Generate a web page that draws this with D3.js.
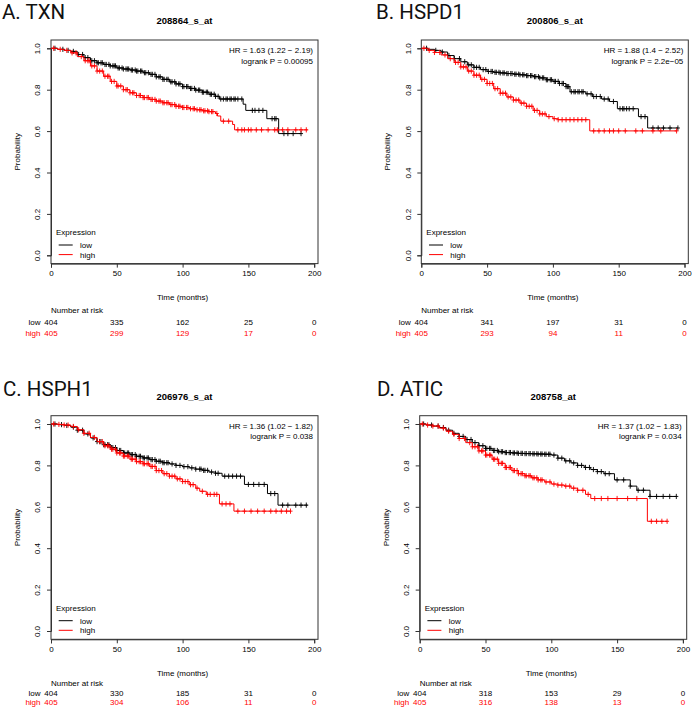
<!DOCTYPE html>
<html><head><meta charset="utf-8">
<script src="https://cdn.jsdelivr.net/npm/d3@7"></script>
<style>body{margin:0;background:#fff} svg{display:block}</style>
</head><body>
<svg id="c" width="693" height="710"></svg>
<script>
// ---------- data ----------
const panelTitles = ["A. TXN", "B. HSPD1", "C. HSPH1", "D. ATIC"];
const probeIds = ["208864_s_at", "200806_s_at", "206976_s_at", "208758_at"];
const hrLabels = ["HR = 1.63 (1.22 \u2212 2.19)", "HR = 1.88 (1.4 \u2212 2.52)", "HR = 1.36 (1.02 \u2212 1.82)", "HR = 1.37 (1.02 \u2212 1.83)"];
const pLabels = ["logrank P = 0.00095", "logrank P = 2.2e\u221205", "logrank P = 0.038", "logrank P = 0.034"];
const timeTicks = [0, 50, 100, 150, 200];
const probTicks = [0, 0.2, 0.4, 0.6, 0.8, 1.0];
const groupNames = ["low", "high"];
const riskLow = [[404, 335, 162, 25, 0], [404, 341, 197, 31, 0], [404, 330, 185, 31, 0], [404, 318, 153, 29, 0]];
const riskHigh = [[405, 299, 129, 17, 0], [405, 293, 94, 11, 0], [405, 304, 106, 11, 0], [405, 316, 138, 13, 0]];

// Kaplan-Meier steps [time (months), survival from that time on]
const lowA = [[0,1],[5,0.995],[10,0.99],[15,0.985],[20,0.97],[25,0.955],[30,0.94],[35,0.93],[40,0.922],[45,0.915],[50,0.905],[55,0.9],[60,0.895],[65,0.89],[70,0.882],[75,0.874],[80,0.862],[85,0.85],[90,0.838],[95,0.828],[100,0.815],[105,0.806],[110,0.798],[115,0.788],[120,0.778],[125,0.768],[128,0.755],[146,0.73],[148,0.70],[164,0.66],[173,0.588],[190,0.588]];
const highA = [[0,1],[5,0.995],[10,0.99],[15,0.978],[20,0.96],[25,0.94],[30,0.915],[35,0.89],[40,0.865],[45,0.84],[50,0.818],[55,0.8],[60,0.785],[65,0.772],[70,0.762],[75,0.753],[80,0.745],[85,0.737],[90,0.728],[95,0.72],[100,0.714],[105,0.708],[110,0.703],[115,0.698],[120,0.694],[125,0.685],[126.5,0.673],[129,0.648],[138,0.632],[139.5,0.606],[195,0.606]];
const lowB = [[0,1],[5,0.995],[10,0.99],[15,0.982],[20,0.965],[25,0.95],[30,0.935],[35,0.92],[40,0.908],[45,0.897],[50,0.888],[55,0.884],[60,0.881],[65,0.878],[70,0.875],[75,0.872],[80,0.868],[85,0.863],[90,0.857],[95,0.848],[100,0.84],[105,0.83],[110,0.815],[113,0.79],[125,0.78],[130,0.767],[137,0.755],[143,0.743],[149,0.708],[165,0.67],[172,0.615],[195,0.615]];
const highB = [[0,1],[5,0.99],[10,0.98],[15,0.968],[20,0.95],[25,0.932],[30,0.91],[35,0.89],[40,0.87],[45,0.85],[50,0.83],[55,0.805],[60,0.783],[65,0.765],[70,0.75],[75,0.735],[80,0.72],[85,0.7],[90,0.683],[95,0.67],[100,0.66],[104,0.655],[128,0.601],[194,0.601]];
const lowC = [[0,1],[5,0.997],[10,0.993],[15,0.985],[20,0.97],[25,0.952],[30,0.933],[35,0.915],[40,0.9],[45,0.886],[50,0.872],[55,0.86],[60,0.852],[65,0.844],[70,0.836],[75,0.828],[80,0.82],[85,0.813],[90,0.807],[95,0.8],[100,0.794],[105,0.788],[110,0.782],[115,0.776],[120,0.768],[125,0.762],[130,0.748],[147,0.708],[164.5,0.664],[172.5,0.608],[195,0.608]];
const highC = [[0,1],[5,0.998],[10,0.995],[15,0.988],[20,0.972],[25,0.955],[30,0.935],[35,0.915],[40,0.895],[45,0.878],[50,0.86],[55,0.845],[60,0.83],[65,0.818],[70,0.808],[75,0.795],[80,0.775],[85,0.76],[90,0.748],[95,0.735],[100,0.722],[105,0.707],[110,0.69],[113,0.675],[118,0.66],[128,0.614],[139,0.579],[182,0.579]];
const lowD = [[0,1],[5,0.995],[10,0.99],[15,0.983],[20,0.97],[25,0.955],[30,0.94],[35,0.925],[40,0.91],[45,0.895],[50,0.882],[55,0.872],[60,0.866],[65,0.862],[70,0.86],[75,0.858],[80,0.857],[85,0.856],[90,0.855],[95,0.854],[100,0.85],[105,0.835],[110,0.822],[115,0.812],[120,0.8],[125,0.79],[130,0.78],[135,0.77],[140,0.76],[148,0.73],[160,0.70],[165,0.68],[175,0.65],[195,0.65]];
const highD = [[0,1],[5,0.995],[10,0.99],[15,0.98],[20,0.965],[25,0.95],[30,0.93],[35,0.91],[40,0.89],[45,0.87],[50,0.85],[55,0.83],[60,0.81],[65,0.79],[70,0.775],[75,0.76],[80,0.75],[85,0.74],[90,0.73],[95,0.72],[100,0.71],[105,0.705],[110,0.70],[115,0.69],[120,0.68],[126,0.66],[130,0.64],[173,0.53],[188,0.53]];

// censoring times (months)
const censLowA = [3,9,13,17,21,24,26,28,30,31,33,35,36,38,39,41,42,44,45,47,48,49,51,52,54,55,57,58,59,61,62,64,65,66,68,69,71,72,74,76,77,79,80,82,83,85,86,88,89,91,92,94,95,97,98,100,101,103,104,106,107,109,110,112,113,115,116,118,119,121,122,124,125,127,129,131,133,134,136,137,139,140,142,145,153,155,158,161,168,170,171,177,180,184,190];
const censHighA = [2,7,12,16,19,23,26,28,29,31,33,35,37,39,41,43,44,46,48,50,51,53,55,57,58,60,62,63,65,67,68,70,71,73,74,76,77,79,80,82,83,85,86,88,89,91,92,94,95,97,98,100,101,103,104,106,108,109,111,113,114,116,117,119,120,122,123,126,131,135,142,145,147,150,152,156,160,165,170,172,176,180,186,190,194];
const censLowB = [4,11,16,21,25,29,33,36,38,40,42,44,47,49,51,53,54,56,57,59,60,62,63,65,66,68,69,71,72,74,75,77,78,80,81,83,84,86,87,89,90,92,93,95,96,98,99,101,102,104,105,107,108,110,111,112,114,116,117,119,120,122,123,126,129,131,133,136,139,142,146,151,153,154,156,158,161,167,170,176,180,184,189,195];
const censHighB = [2,6,10,14,18,22,26,28,30,32,34,36,38,40,42,44,46,48,50,52,54,56,58,60,62,64,66,68,70,72,74,76,78,80,82,84,86,88,90,92,94,97,101,104,107,110,113,116,119,122,125,131,135,139,143,146,150,155,163,168,176,182,194];
const censLowC = [3,8,12,17,20,24,28,32,35,37,38,40,41,43,44,46,47,49,50,52,53,55,56,58,59,61,62,64,65,67,68,70,71,73,74,76,77,79,80,82,83,85,86,88,89,92,95,98,101,104,107,110,113,114,116,117,119,122,125,127,132,135,138,141,144,150,154,158,162,167,170,176,180,186,190,194];
const censHighC = [2,6,10,13,17,21,25,29,33,37,39,41,43,44,46,47,49,50,52,53,55,56,58,59,61,62,64,65,67,68,70,71,73,74,76,77,79,80,82,84,86,88,90,92,94,96,98,100,102,104,106,108,111,115,119,121,124,126,130,133,136,142,147,152,157,162,167,171,175,179,182];
const censLowD = [3,9,14,18,22,26,30,33,36,39,42,45,48,50,51,53,54,56,57,59,60,62,63,65,66,68,69,71,72,74,75,77,78,80,81,83,84,86,87,89,90,92,93,95,96,98,99,102,105,108,111,114,117,120,123,126,129,132,135,138,141,144,150,155,160,166,170,175,180,185,190,195];
const censHighD = [2,6,10,14,18,22,26,30,34,38,40,42,44,45,47,48,50,51,53,54,56,57,59,60,62,63,65,66,68,69,71,72,74,75,77,78,80,81,83,84,86,87,89,90,92,93,96,99,102,105,108,111,114,117,120,124,128,133,138,143,150,158,165,176,180,184,188];

const lowCurves = [lowA, lowB, lowC, lowD];
const highCurves = [highA, highB, highC, highD];
const lowCens = [censLowA, censLowB, censLowC, censLowD];
const highCens = [censHighA, censHighB, censHighC, censHighD];

// ---------- layout ----------
const COL_LOW = "#000000", COL_HIGH = "#ff0000";
const AXIS_FONT = "'Liberation Sans', Arial, sans-serif";
const origins = [[51, 40], [421.3, 40], [51, 415.7], [419.7, 415.7]];
const titlePos = [[2, 19.4], [376, 19.4], [3, 395.5], [377, 395.5]];
const tableOffsets = [[49.5, 61.5, 72.5], [49.5, 61.5, 72.5], [46.5, 56.5, 66], [46.5, 56.5, 66]];
const plotW = 263.2, boxW = 267, boxH = 223.6, yPad = 8.3;

const svg = d3.select("#c");

function survAt(curve, t) {
  let s = 1;
  for (const [ti, si] of curve) { if (ti <= t) s = si; else break; }
  return s;
}

panelTitles.forEach((title, i) => {
  const [L, T] = origins[i];
  const B = T + boxH;
  const x = d3.scaleLinear().domain([0, 200]).range([L, L + plotW]);
  const y = d3.scaleLinear().domain([0, 1]).range([B - yPad, T + yPad]);
  const g = svg.append("g");

  // panel title
  svg.append("text").attr("x", titlePos[i][0]).attr("y", titlePos[i][1])
    .attr("font-family", "Roboto, 'Noto Sans', sans-serif").attr("font-size", 20.5)
    .attr("fill", "#111").text(title);

  // probe id
  g.append("text").attr("x", L + boxW / 2).attr("y", T - 16)
    .attr("text-anchor", "middle").attr("font-family", AXIS_FONT)
    .attr("font-weight", "bold").attr("font-size", 9.5).text(probeIds[i]);

  // box
  g.append("rect").attr("x", L).attr("y", T).attr("width", boxW).attr("height", boxH)
    .attr("fill", "none").attr("stroke", "#333").attr("stroke-width", 1);

  // x axis
  const xa = g.append("g").attr("transform", `translate(0,${B})`)
    .call(d3.axisBottom(x).tickValues(timeTicks).tickSize(4).tickPadding(3).tickFormat(d3.format("d")));
  xa.select(".domain").attr("stroke", "#333");
  xa.selectAll("line").attr("stroke", "#333");
  xa.selectAll("text").attr("font-family", AXIS_FONT).attr("font-size", 8).attr("fill", "#000");

  // y axis
  const ya = g.append("g").attr("transform", `translate(${L},0)`)
    .call(d3.axisLeft(y).tickValues(probTicks).tickSize(4).tickFormat(d3.format(".1f")));
  ya.select(".domain").attr("stroke", "#333");
  ya.selectAll("line").attr("stroke", "#333");
  ya.selectAll("text").attr("font-family", AXIS_FONT).attr("font-size", 8).attr("fill", "#000")
    .attr("text-anchor", "middle").attr("x", null).attr("dy", null)
    .attr("transform", "translate(-10.6,0) rotate(-90)");

  // axis titles
  g.append("text").attr("x", L + plotW / 2).attr("y", B + 36.5).attr("text-anchor", "middle")
    .attr("font-family", AXIS_FONT).attr("font-size", 8).text("Time (months)");
  g.append("text").attr("transform", `translate(${L - 31},${(y(0) + y(1)) / 2}) rotate(-90)`)
    .attr("text-anchor", "middle").attr("font-family", AXIS_FONT).attr("font-size", 8).text("Probability");

  // HR and p
  g.append("text").attr("x", L + boxW - 5).attr("y", T + 13).attr("text-anchor", "end")
    .attr("font-family", AXIS_FONT).attr("font-size", 8).text(hrLabels[i]);
  g.append("text").attr("x", L + boxW - 5).attr("y", T + 23.5).attr("text-anchor", "end")
    .attr("font-family", AXIS_FONT).attr("font-size", 8).text(pLabels[i]);

  // curves
  const line = d3.line().x(d => x(d[0])).y(d => y(d[1])).curve(d3.curveStepAfter);
  const series = [
    { curve: lowCurves[i], cens: lowCens[i], col: COL_LOW },
    { curve: highCurves[i], cens: highCens[i], col: COL_HIGH }
  ];
  series.forEach(s => {
    g.append("path").attr("d", line(s.curve)).attr("fill", "none")
      .attr("stroke", s.col).attr("stroke-width", 1);
    g.append("g").selectAll("path").data(s.cens).join("path")
      .attr("d", t => {
        const px = x(t), py = y(survAt(s.curve, t));
        return `M${px - 2},${py}H${px + 2}M${px},${py - 2.6}V${py + 2.6}`;
      })
      .attr("stroke", s.col).attr("stroke-width", 0.9).attr("fill", "none");
  });

  // legend
  g.append("text").attr("x", L + 5).attr("y", B - 28.3).attr("font-family", AXIS_FONT)
    .attr("font-size", 8).text("Expression");
  [COL_LOW, COL_HIGH].forEach((c, k) => {
    const ly = B - 18.6 + k * 9.6;
    g.append("line").attr("x1", L + 7.7).attr("x2", L + 21.7).attr("y1", ly).attr("y2", ly)
      .attr("stroke", c).attr("stroke-width", 1);
    g.append("text").attr("x", L + 29).attr("y", ly + 3).attr("font-family", AXIS_FONT)
      .attr("font-size", 8).text(groupNames[k]);
  });

  // number at risk
  const [oN, oL, oH] = tableOffsets[i];
  g.append("text").attr("x", L).attr("y", B + oN).attr("font-family", AXIS_FONT)
    .attr("font-size", 8).text("Number at risk");
  [riskLow[i], riskHigh[i]].forEach((row, k) => {
    const ry = B + (k === 0 ? oL : oH);
    const col = k === 0 ? COL_LOW : COL_HIGH;
    g.append("text").attr("x", L - 10.5).attr("y", ry).attr("text-anchor", "end")
      .attr("font-family", AXIS_FONT).attr("font-size", 8).attr("fill", col).text(groupNames[k]);
    g.append("g").selectAll("text").data(row).join("text")
      .attr("x", (d, j) => x(timeTicks[j])).attr("y", ry).attr("text-anchor", "middle")
      .attr("font-family", AXIS_FONT).attr("font-size", 8).attr("fill", col).text(d => d);
  });
});
</script>
</body></html>
